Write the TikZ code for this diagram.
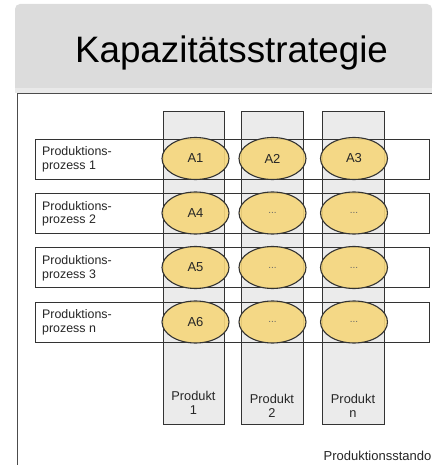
\documentclass[tikz,border=0pt]{standalone}
\usepackage{fontspec}
\setmainfont{Liberation Sans}
\usetikzlibrary{shapes.geometric}
\definecolor{hdrgray}{HTML}{DCDCDC}
\definecolor{stripgray}{HTML}{E9E9E9}
\definecolor{colgray}{HTML}{EBEBEB}
\definecolor{ellfill}{HTML}{F6D77C}
\definecolor{linedark}{HTML}{333333}
\tikzset{
  colbox/.style={draw=linedark, fill=colgray, line width=0.9pt},
  rowbox/.style={draw=linedark, line width=0.9pt},
  cell/.style={ellipse, draw=linedark, fill=ellfill, fill opacity=0.9, text opacity=1,
    line width=1.1pt, minimum width=67pt, minimum height=42pt, inner sep=0pt,
    font=\fontsize{13}{15}\selectfont, text=black!85},
  dots/.style={cell, font=\fontsize{10}{12}\selectfont, text=black!60},
  rowlabel/.style={anchor=west, align=left, inner sep=0pt,
    font=\fontsize{12.4}{13.6}\selectfont, text=black!85},
  prodlabel/.style={align=center, inner sep=0pt,
    font=\fontsize{12.8}{14.5}\selectfont, text=black!85}
}
\begin{document}
\begin{tikzpicture}[x=1pt,y=-1pt]
\useasboundingbox (0,0) rectangle (432,465);
% header
\fill[hdrgray, rounded corners=5pt] (15,4) -- (432,4) -- (432,88) -- (15,88) -- cycle;
\fill[hdrgray] (15,60) rectangle (432,88);
\fill[stripgray] (15,88) rectangle (432,93.5);
\node[anchor=base, inner sep=0pt, font=\fontsize{36.8}{40}\selectfont] (title) at (231.5,63) {Kapazitätsstrategie};
% panel
\fill[white] (17,94) rectangle (432,465);
\draw[draw=black!70, line width=1pt] (17,465) -- (17,94) -- (432,94);
% columns
\draw[colbox] (163,111) rectangle (224,424);
\draw[colbox] (241,111) rectangle (303,424);
\draw[colbox] (322,111) rectangle (384,424);
\node[prodlabel] (p1) at (193.5,403) {Produkt\\1};
\node[prodlabel] (p2) at (272,406) {Produkt\\2};
\node[prodlabel] (p3) at (353,406) {Produkt\\n};
% rows
\draw[rowbox] (35,139) rectangle (429,179);
\draw[rowbox] (35,193.3) rectangle (429,233.3);
\draw[rowbox] (35,247.7) rectangle (429,287.7);
\draw[rowbox] (35,302) rectangle (429,342);
\node[rowlabel] (r1) at (42,159.5) {Produktions-\\prozess 1};
\node[rowlabel] (r2) at (42,213.8) {Produktions-\\prozess 2};
\node[rowlabel] (r3) at (42,268.2) {Produktions-\\prozess 3};
\node[rowlabel] (r4) at (42,322.5) {Produktions-\\prozess n};
% cells
\node[cell] (a1) at (195.5,158.5) {A1};
\node[cell] (a2) at (272.5,158.5) {A2};
\node[cell] (a3) at (354,158.5) {A3};
\node[cell] (a4) at (195.5,213) {A4};
\node[dots] (b2) at (272.5,213) {...};
\node[dots] (c2) at (354,213) {...};
\node[cell] (a5) at (195.5,267.5) {A5};
\node[dots] (b3) at (272.5,267.5) {...};
\node[dots] (c3) at (354,267.5) {...};
\node[cell] (a6) at (195.5,322) {A6};
\node[dots] (b4) at (272.5,322) {...};
\node[dots] (c4) at (354,322) {...};
% footer text
\node[anchor=base east, inner sep=0pt, font=\fontsize{13}{15}\selectfont, text=black!85] (foot) at (431.5,460) {Produktionsstando};
\end{tikzpicture}
\end{document}
